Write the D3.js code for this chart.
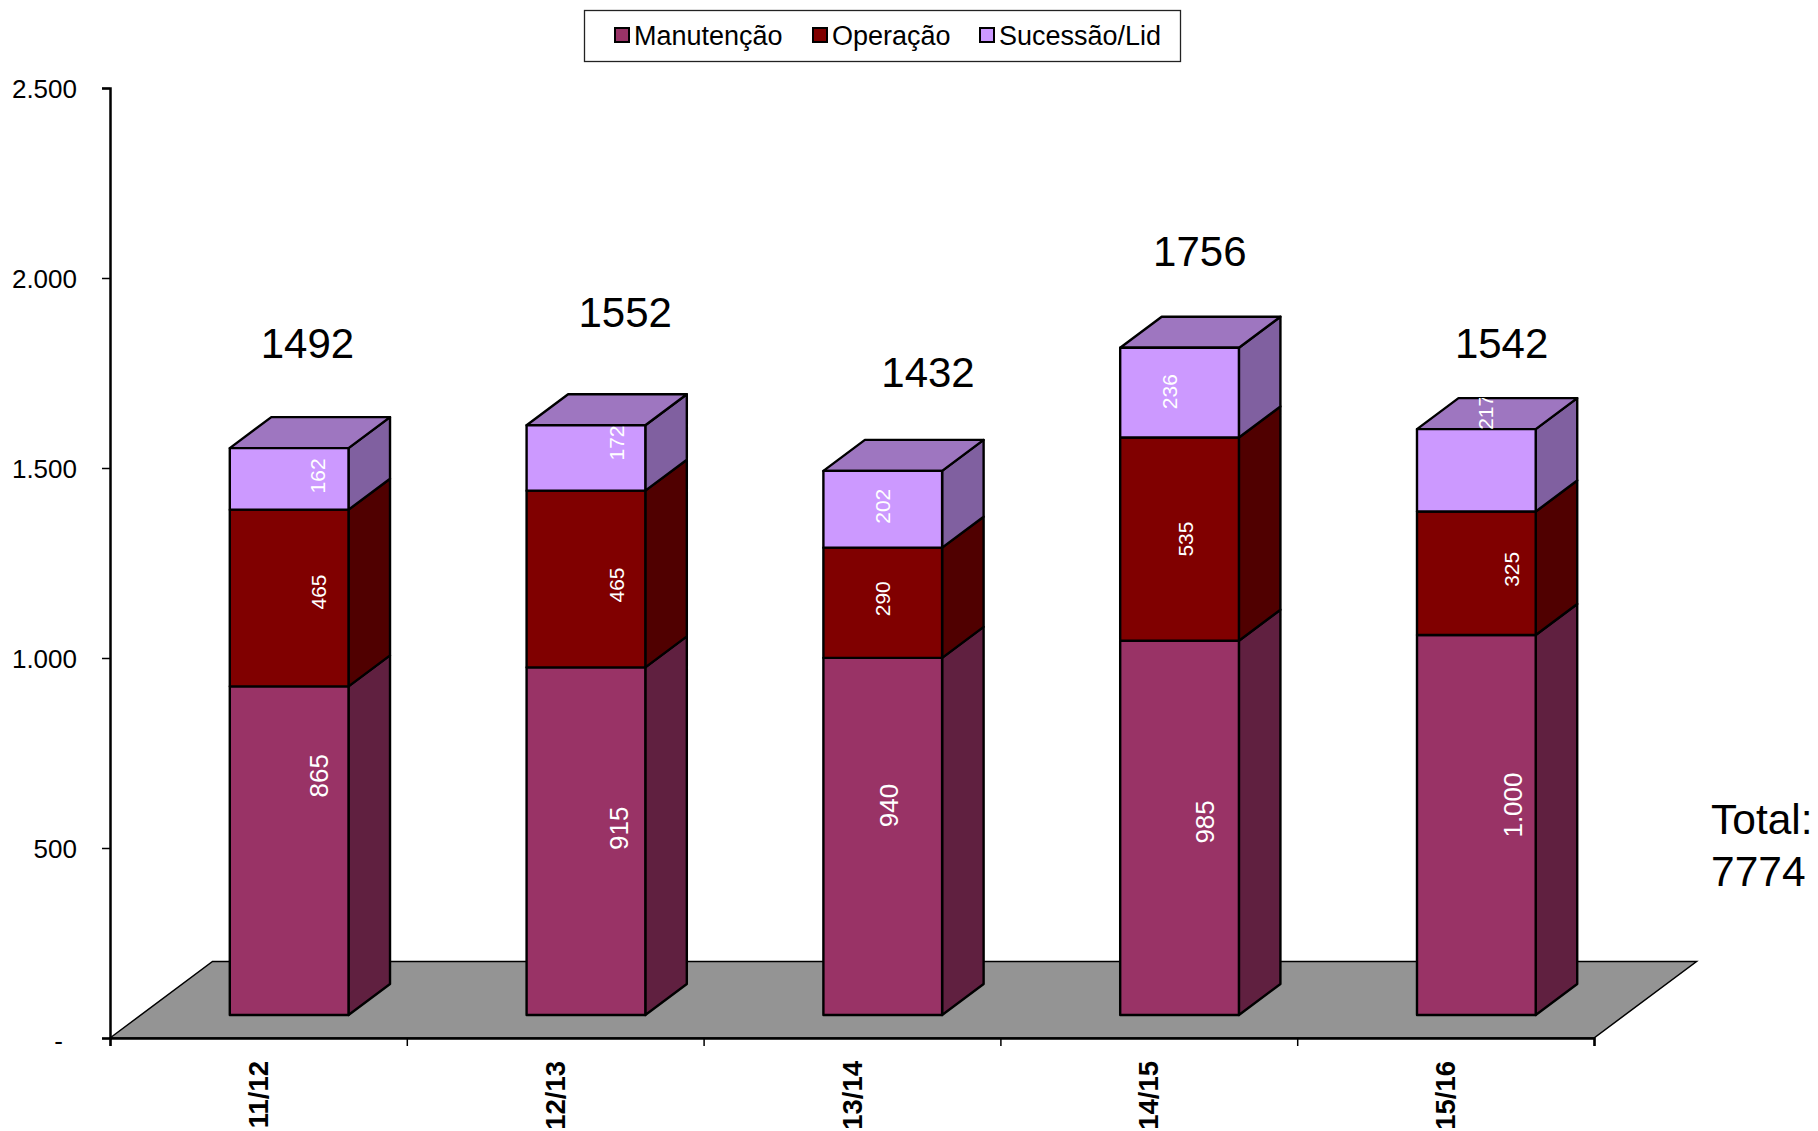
<!DOCTYPE html>
<html>
<head>
<meta charset="utf-8">
<title>Manutenção, Operação, Sucessão/Lid</title>
<script src="https://cdn.jsdelivr.net/npm/d3@7"></script>
<style>
    html, body { margin: 0; padding: 0; background: #fff; overflow: hidden; }
    text { font-family: "Liberation Sans", Arial, sans-serif; }
</style>
</head>
<body>
<svg id="chart" width="1818" height="1131"></svg>
<script>
// chart values
const categories = ['11/12', '12/13', '13/14', '14/15', '15/16'];
const seriesNames = ['Manutenção', 'Operação', 'Sucessão/Lid'];
const manutencao = [865, 915, 940, 985, 1000];
const operacao = [465, 465, 290, 535, 325];
const sucessao = [162, 172, 202, 236, 217];
const totals = [1492, 1552, 1432, 1756, 1542];
const grandTotal = ['Total:', '7774'];
const yTicks = [0, 500, 1000, 1500, 2000, 2500];

// the labels were moved by hand in the original, px from the middle of the front face
const manutencaoNudge = [[30, -75], [33, -13], [6, -31], [25, -6], [37, -20]];
const operacaoNudge = [[29, -6], [31, 6], [0, -4], [6, 0], [35, -4]];
const sucessaoNudge = [[28, -3], [31, -15], [0, -3], [-10, -1], [9, -58]];
const totalNudge = [[49, -128], [70, -136], [76, -122], [51, -119], [56, -109]];

const colors = [
    { front: '#993366', side: '#602040' },
    { front: '#800000', side: '#500000' },
    { front: '#cc99ff', side: '#8060a0' }
];
const topColor = '#9e76c0';

const values = [manutencao, operacao, sucessao];
const nudges = [manutencaoNudge, operacaoNudge, sucessaoNudge];
const labelSizes = [26, 21, 21];

const plotLeft = 110, plotRight = 1594, plotTop = 88, plotBottom = 1038;
const floorDx = 102.5, floorDy = 76.5;
const frontZ = 0.3, backZ = 0.705;

const locale = d3.formatLocale({ decimal: ',', thousands: '.', grouping: [3], currency: ['', ''] });
const fmt = locale.format(',d');

const svg = d3.select('#chart');

const x = d3.scaleBand().domain(categories).range([plotLeft, plotRight]).paddingInner(0.6).paddingOuter(0.3);
const xEdges = d3.scaleLinear().domain([0, categories.length]).range([plotLeft, plotRight]);
const y = d3.scaleLinear().domain([0, 2500]).range([plotBottom, plotTop]);

// depth of the fake 3D: z goes from 0 (front of floor) to 1 (back of floor)
const project = (px, value, z) => [px + z * floorDx, y(value) - z * floorDy];
const poly = pts => pts.map(p => p.join(',')).join(' ');

// floor
svg.append('polygon')
    .attr('points', poly([
        project(plotLeft, 0, 0),
        project(plotLeft, 0, 1),
        project(plotRight, 0, 1),
        project(plotRight, 0, 0)
    ]))
    .attr('fill', '#949494')
    .attr('stroke', '#000')
    .attr('stroke-width', 1.5);

// stack the series per category
const rows = categories.map((c, i) => {
    let sum = 0;
    const segments = values.map((v, s) => {
        const seg = { cat: c, index: i, series: s, value: v[i], y0: sum, y1: sum + v[i] };
        sum += v[i];
        return seg;
    });
    return { cat: c, index: i, segments, stackTop: sum };
});

const bars = svg.append('g').attr('class', 'bars')
    .selectAll('g')
    .data(rows)
    .enter().append('g');

const barStroke = sel => sel
    .attr('stroke', '#000')
    .attr('stroke-width', 2.4)
    .attr('stroke-linejoin', 'round');

// side faces
bars.selectAll('polygon.side')
    .data(d => d.segments)
    .enter().append('polygon')
    .attr('class', 'side')
    .attr('points', d => {
        const xr = x(d.cat) + x.bandwidth();
        return poly([
            project(xr, d.y0, frontZ),
            project(xr, d.y0, backZ),
            project(xr, d.y1, backZ),
            project(xr, d.y1, frontZ)
        ]);
    })
    .attr('fill', d => colors[d.series].side)
    .call(barStroke);

// top face
const topPoints = d => {
    const xl = x(d.cat), xr = xl + x.bandwidth();
    return poly([
        project(xl, d.stackTop, frontZ),
        project(xl, d.stackTop, backZ),
        project(xr, d.stackTop, backZ),
        project(xr, d.stackTop, frontZ)
    ]);
};

bars.append('polygon')
    .attr('class', 'top-face')
    .attr('points', topPoints)
    .attr('fill', topColor)
    .call(barStroke);

// front faces
bars.selectAll('polygon.front')
    .data(d => d.segments)
    .enter().append('polygon')
    .attr('class', 'front')
    .attr('points', d => {
        const xl = x(d.cat), xr = xl + x.bandwidth();
        return poly([
            project(xl, d.y0, frontZ),
            project(xl, d.y1, frontZ),
            project(xr, d.y1, frontZ),
            project(xr, d.y0, frontZ)
        ]);
    })
    .attr('fill', d => colors[d.series].front)
    .call(barStroke);

// the 217 label is cut off by the top face of its bar
svg.append('clipPath')
    .attr('id', 'clip-last-top')
    .append('polygon')
    .attr('points', topPoints(rows[rows.length - 1]));

// value labels
bars.selectAll('text.value')
    .data(d => d.segments)
    .enter().append('text')
    .attr('class', 'value')
    .attr('transform', d => {
        const n = nudges[d.series][d.index];
        const p = project(x(d.cat) + x.bandwidth() / 2 + n[0], (d.y0 + d.y1) / 2, frontZ);
        return `translate(${p[0]},${p[1] + n[1]}) rotate(-90)`;
    })
    .attr('text-anchor', 'middle')
    .attr('dy', '0.35em')
    .attr('fill', '#fff')
    .attr('font-size', d => labelSizes[d.series])
    .text(d => fmt(d.value));

// clip only that one label: wrap it so the clip stays in page coordinates
const lastBar = bars.filter(d => d.index === rows.length - 1);
const lastLabel = lastBar.selectAll('text.value').filter(d => d.series === 2);
const clipWrap = lastBar.append('g').attr('clip-path', 'url(#clip-last-top)');
clipWrap.node().appendChild(lastLabel.node());

// totals above the bars
svg.append('g').selectAll('text')
    .data(rows)
    .enter().append('text')
    .attr('x', d => x(d.cat) + x.bandwidth() / 2 + totalNudge[d.index][0])
    .attr('y', d => y(totals[d.index]) + totalNudge[d.index][1])
    .attr('dy', '0.35em')
    .attr('text-anchor', 'middle')
    .attr('font-size', 42)
    .attr('fill', '#000')
    .text(d => totals[d.index]);

// grand total at the right
svg.append('g').selectAll('text')
    .data(grandTotal)
    .enter().append('text')
    .attr('x', 1711)
    .attr('y', (d, i) => 834 + i * 52)
    .attr('font-size', 42.5)
    .attr('fill', '#000')
    .text(d => d);

// axes
const yAxis = d3.axisLeft(y)
    .tickValues(yTicks)
    .tickSize(8)
    .tickPadding(25)
    .tickFormat(d => d === 0 ? '-' : fmt(d));

const yG = svg.append('g')
    .attr('transform', `translate(${plotLeft},0)`)
    .call(yAxis);
yG.attr('font-family', null);
yG.selectAll('text').attr('font-size', 26).attr('fill', '#000').attr('y', 1);
// the zero dash sits further left and lower than the numbers
yG.selectAll('.tick').filter(d => d === 0).select('text').attr('dx', -14).attr('y', 3);
yG.select('.domain').attr('stroke', '#000').attr('stroke-width', 2.5);
yG.selectAll('.tick line').attr('stroke', '#000').attr('stroke-width', 1.5);

const xTicksG = svg.append('g')
    .attr('transform', `translate(0,${plotBottom})`)
    .call(d3.axisBottom(xEdges).tickValues(d3.range(categories.length + 1)).tickSize(8).tickFormat(''));
xTicksG.select('.domain').attr('stroke', '#000').attr('stroke-width', 2.5);
xTicksG.selectAll('.tick line').attr('stroke', '#000').attr('stroke-width', 1.5);

const xG = svg.append('g')
    .attr('transform', `translate(0,${plotBottom})`)
    .call(d3.axisBottom(x).tickSize(0).tickPadding(0));
xG.attr('font-family', null);
xG.select('.domain').remove();
xG.selectAll('text')
    .attr('font-size', 27.5)
    .attr('font-weight', 'bold')
    .attr('fill', '#000')
    .attr('text-anchor', 'end')
    .attr('x', 0)
    .attr('y', 0)
    .attr('dy', '0.35em')
    .attr('transform', 'translate(0,23) rotate(-90)');

// legend
const legendSwatchX = [615, 813, 980];
const legend = svg.append('g');
legend.append('rect')
    .attr('x', 584.5).attr('y', 10.5)
    .attr('width', 596).attr('height', 51)
    .attr('fill', '#fff')
    .attr('stroke', '#222')
    .attr('stroke-width', 1.3);
const legendItem = legend.selectAll('g.item')
    .data(seriesNames)
    .enter().append('g')
    .attr('class', 'item')
    .attr('transform', (d, i) => `translate(${legendSwatchX[i]},28)`);
legendItem.append('rect')
    .attr('width', 14).attr('height', 14)
    .attr('fill', (d, i) => colors[i].front)
    .attr('stroke', '#000')
    .attr('stroke-width', 2);
legendItem.append('text')
    .attr('x', 19)
    .attr('y', 17)
    .attr('font-size', 27)
    .attr('fill', '#000')
    .text(d => d);
</script>
</body>
</html>
